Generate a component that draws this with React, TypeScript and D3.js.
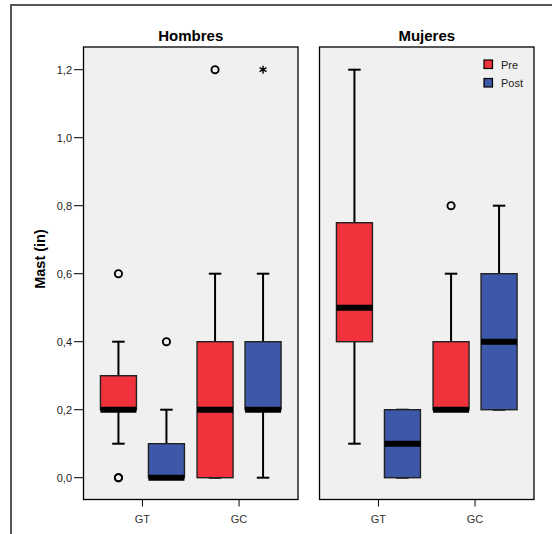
import React from "react";
import * as d3 from "d3";

// ---- data ----
const panels = ["Hombres", "Mujeres"];
const groups = ["GT", "GC"];
const phases = ["Pre", "Post"];
const yTicks = [0, 0.2, 0.4, 0.6, 0.8, 1.0, 1.2];

// [panel][group][phase] five-number summaries: low whisker, q1, median, q3, high whisker
const hombresStats = [
  [[0.1, 0.2, 0.2, 0.3, 0.4], [0.0, 0.0, 0.0, 0.1, 0.2]],
  [[0.0, 0.0, 0.2, 0.4, 0.6], [0.0, 0.2, 0.2, 0.4, 0.6]],
];
const mujeresStats = [
  [[0.1, 0.4, 0.5, 0.75, 1.2], [0.0, 0.0, 0.1, 0.2, 0.2]],
  [[0.2, 0.2, 0.2, 0.4, 0.6], [0.2, 0.2, 0.4, 0.6, 0.8]],
];
// outliers: [panel, group, phase, value]
const outliers = [
  [0, 0, 0, 0.6],
  [0, 0, 0, 0.0],
  [0, 0, 0, 0.0],
  [0, 0, 1, 0.4],
  [0, 1, 0, 1.2],
  [1, 1, 0, 0.8],
];
// extremes (star): [panel, group, phase, value]
const extremes = [[0, 1, 1, 1.2]];

const colors = ["#ef323b", "#3d58a9"];

export default function App() {
  const W = 552, H = 534;
  const panelX = [83.5, 319.5];
  const panelW = 214.5;
  const top = 47, bottom = 499.5;
  const y = d3.scaleLinear().domain([0, 1.2]).range([477.7, 69.7]);
  const stats = [hombresStats, mujeresStats];
  const boxW = 36, off = 24, capW = 12.5;
  const fontFam = "Liberation Sans, Arial, sans-serif";

  const xScale = (p: number) =>
    d3.scalePoint<string>().domain(groups).range([panelX[p], panelX[p] + panelW]).padding(0.61);

  const star = d3.symbol().type(d3.symbolAsterisk).size(45)();

  return (
    <svg width={W} height={H} style={{ position: "absolute", left: 0, top: 0 }} fontFamily={fontFam}>
      <rect x={0} y={0} width={W} height={H} fill="#fff" />
      <rect x={11} y={5} width={W + 20} height={H + 20} fill="none" stroke="#555" strokeWidth={2} />
      {/* y label */}
      <text
        transform={`translate(45,259) rotate(-90)`}
        textAnchor="middle"
        fontSize={14.5}
        fontWeight="bold"
        fill="#000"
      >
        Mast (in)
      </text>
      {panels.map((name, p) => {
        const x = xScale(p);
        return (
          <g key={name}>
            <rect x={panelX[p]} y={top} width={panelW} height={bottom - top} fill="#f0f0f0" stroke="#000" strokeWidth={1.3} />
            <text x={panelX[p] + panelW / 2} y={41} textAnchor="middle" fontSize={15} fontWeight="bold" fill="#000">
              {name}
            </text>
            {groups.map((g) => (
              <g key={g}>
                <line x1={x(g)} x2={x(g)} y1={bottom} y2={bottom + 7} stroke="#000" strokeWidth={1} />
                <text x={x(g)} y={523} textAnchor="middle" fontSize={11} fill="#333">
                  {g}
                </text>
              </g>
            ))}
            {groups.map((g, gi) =>
              phases.map((ph, pi) => {
                const [lo, q1, med, q3, hi] = stats[p][gi][pi];
                const cx = (x(g) as number) + (pi === 0 ? -off : off);
                return (
                  <g key={g + ph}>
                    <line x1={cx} x2={cx} y1={y(q3)} y2={y(hi)} stroke="#000" strokeWidth={2} />
                    <line x1={cx} x2={cx} y1={y(q1)} y2={y(lo)} stroke="#000" strokeWidth={2} />
                    <line x1={cx - capW / 2} x2={cx + capW / 2} y1={y(hi)} y2={y(hi)} stroke="#000" strokeWidth={2} />
                    <line x1={cx - capW / 2} x2={cx + capW / 2} y1={y(lo)} y2={y(lo)} stroke="#000" strokeWidth={2} />
                    <rect
                      x={cx - boxW / 2}
                      y={y(q3)}
                      width={boxW}
                      height={y(q1) - y(q3)}
                      fill={colors[pi]}
                      stroke="#222"
                      strokeWidth={1.4}
                    />
                    <line x1={cx - boxW / 2} x2={cx + boxW / 2} y1={y(med)} y2={y(med)} stroke="#000" strokeWidth={6} />
                  </g>
                );
              })
            )}
            {outliers
              .filter((o) => o[0] === p)
              .map((o, i) => {
                const cx = (x(groups[o[1]]) as number) + (o[2] === 0 ? -off : off);
                return <circle key={i} cx={cx} cy={y(o[3])} r={3.6} fill="none" stroke="#000" strokeWidth={1.9} />;
              })}
            {extremes
              .filter((o) => o[0] === p)
              .map((o, i) => {
                const cx = (x(groups[o[1]]) as number) + (o[2] === 0 ? -off : off);
                return (
                  <path key={i} d={star as string} transform={`translate(${cx},${y(o[3])})`} fill="#000" stroke="#000" strokeWidth={1.4} />
                );
              })}
          </g>
        );
      })}
      {/* y axis */}
      {yTicks.map((t) => (
        <g key={t}>
          <line x1={74} x2={panelX[0]} y1={y(t)} y2={y(t)} stroke="#000" strokeWidth={1} />
          <text x={72} y={y(t)} dy="0.35em" textAnchor="end" fontSize={11} fill="#222">
            {d3.format(".1f")(t).replace(".", ",")}
          </text>
        </g>
      ))}
      {/* legend */}
      {phases.map((ph, i) => (
        <g key={ph} transform={`translate(484,${60 + i * 18.5})`}>
          <rect x={0} y={0} width={8.5} height={8.5} fill={colors[i]} stroke="#000" strokeWidth={1.2} />
          <text x={17} y={8.5} fontSize={11} fill="#222">
            {ph}
          </text>
        </g>
      ))}
    </svg>
  );
}
